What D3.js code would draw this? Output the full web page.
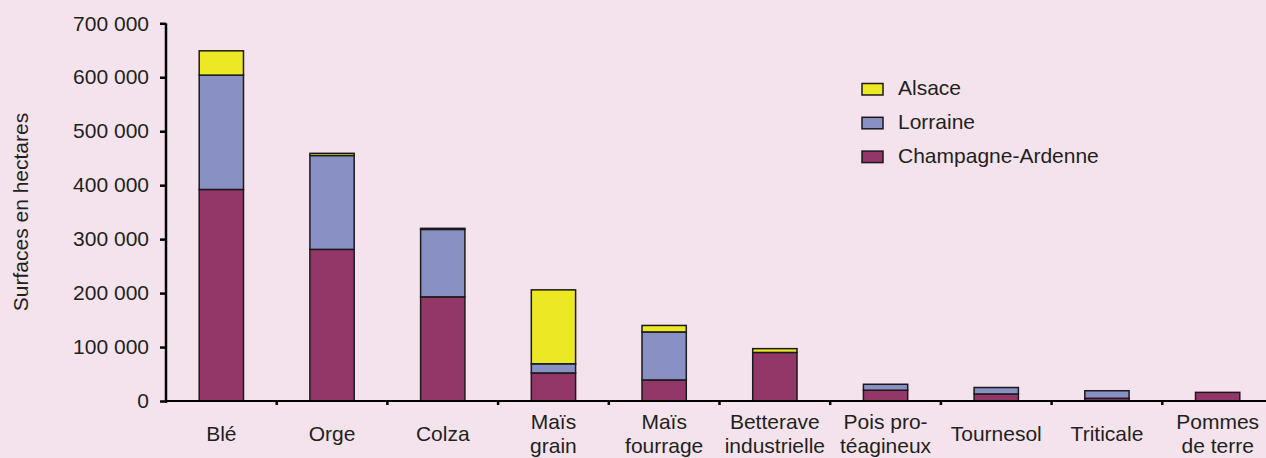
<!DOCTYPE html>
<head>
    <meta charset="utf-8">
    <title>Surfaces cultivées par région</title>
    <script src="https://d3js.org/d3.v7.min.js"></script>
    <style>
        body { margin: 0; background: #f4e3ec; }
        svg { display: block; font-family: "Liberation Sans", Arial, sans-serif; }
        text { fill: #231f20; }
    </style>
</head>
<body>
    <svg></svg>
</body>

<script>
    // Data
    var cultures = [['Blé'], ['Orge'], ['Colza'], ['Maïs', 'grain'], ['Maïs', 'fourrage'],
        ['Betterave', 'industrielle'], ['Pois pro-', 'téagineux'], ['Tournesol'], ['Triticale'], ['Pommes', 'de terre']];
    var champagne = [392000, 281000, 193000, 52000, 39000, 90000, 20000, 13000, 5000, 16000];
    var lorraine  = [212000, 174000, 125000, 17000, 89000, 0, 11000, 12000, 14000, 0];
    var alsace    = [45000, 4000, 2000, 137000, 12000, 7000, 0, 0, 0, 0];
    var regions = ['Champagne-Ardenne', 'Lorraine', 'Alsace'];
    var yTicks = [0, 100000, 200000, 300000, 400000, 500000, 600000, 700000];

    var vWidth = 1266, vHeight = 458;
    var vFont = '21px';
    var vColor = d3.scaleOrdinal().domain(regions).range(['#933768', '#8890c4', '#ece823']);

    var svg = d3.select('svg').attr('width', vWidth).attr('height', vHeight);

    var x = d3.scaleBand()
        .domain(d3.range(cultures.length))
        .range([166, 1273])
        .paddingInner(0.6).paddingOuter(0.3);
    var y = d3.scaleLinear().domain([0, 700000]).range([401, 23.3]);

    var rows = cultures.map(function (c, i) {
        return { i: i, 'Champagne-Ardenne': champagne[i], 'Lorraine': lorraine[i], 'Alsace': alsace[i] };
    });
    var stack = d3.stack().keys(regions)(rows);

    // Bars
    svg.append('g').selectAll('g').data(stack).enter().append('g')
        .attr('fill', function (d) { return vColor(d.key); })
        .selectAll('rect').data(function (d) { return d.filter(function (s) { return s[1] > s[0]; }); })
        .enter().append('rect')
        .attr('x', function (d) { return x(d.data.i); })
        .attr('width', x.bandwidth())
        .attr('y', function (d) { return y(d[1]); })
        .attr('height', function (d) { return y(d[0]) - y(d[1]); })
        .attr('stroke', '#1a1a1a').attr('stroke-width', 1.5);

    // Y axis
    var fr = d3.formatLocale({ decimal: ',', thousands: ' ', grouping: [3], currency: ['', ''] });
    var yAxis = svg.append('g')
        .attr('transform', 'translate(166,0)')
        .call(d3.axisLeft(y).tickValues(yTicks).tickSize(6).tickPadding(11).tickFormat(fr.format(',')));
    yAxis.select('.domain').attr('stroke', '#000').attr('stroke-width', 2.5).attr('d', 'M0,' + 403 + 'V' + 23.3);
    yAxis.selectAll('.tick line').attr('stroke', '#000').attr('stroke-width', 2.5);
    yAxis.selectAll('text').style('font-size', vFont).style('fill', '#231f20')
        .style('font-family', '"Liberation Sans", Arial, sans-serif');

    // X axis line and ticks between categories
    svg.append('line').attr('x1', 166).attr('x2', 1273).attr('y1', 401).attr('y2', 401)
        .attr('stroke', '#000').attr('stroke-width', 2);
    svg.append('g').selectAll('line').data(d3.range(1, cultures.length + 1)).enter().append('line')
        .attr('x1', function (d) { return x.range()[0] + d * x.step(); })
        .attr('x2', function (d) { return x.range()[0] + d * x.step(); })
        .attr('y1', 401).attr('y2', 405)
        .attr('stroke', '#000').attr('stroke-width', 2.5);

    // Category labels
    svg.append('g').selectAll('text').data(cultures).enter().append('text')
        .attr('text-anchor', 'middle')
        .style('font-size', vFont)
        .attr('transform', function (d, i) { return 'translate(' + (x(i) + x.bandwidth() / 2) + ',0)'; })
        .each(function (d) {
            var t = d3.select(this);
            d.forEach(function (line, k) {
                t.append('tspan').attr('x', 0)
                    .attr('y', 441 + (k - (d.length - 1) / 2) * 24)
                    .text(line);
            });
        });

    // Y title
    svg.append('text')
        .attr('transform', 'translate(28,212) rotate(-90)')
        .attr('text-anchor', 'middle')
        .style('font-size', vFont)
        .text('Surfaces en hectares');

    // Legend
    var legend = svg.append('g').selectAll('g').data(regions.slice().reverse()).enter().append('g')
        .attr('transform', function (d, i) { return 'translate(862,' + (95 + i * 33.8) + ')'; });
    legend.append('rect')
        .attr('x', 0).attr('y', -11.5).attr('width', 21).attr('height', 11.5)
        .attr('fill', function (d) { return vColor(d); })
        .attr('stroke', '#1a1a1a').attr('stroke-width', 1.5);
    legend.append('text')
        .attr('x', 36).attr('y', 0)
        .style('font-size', vFont)
        .text(function (d) { return d; });
</script>
